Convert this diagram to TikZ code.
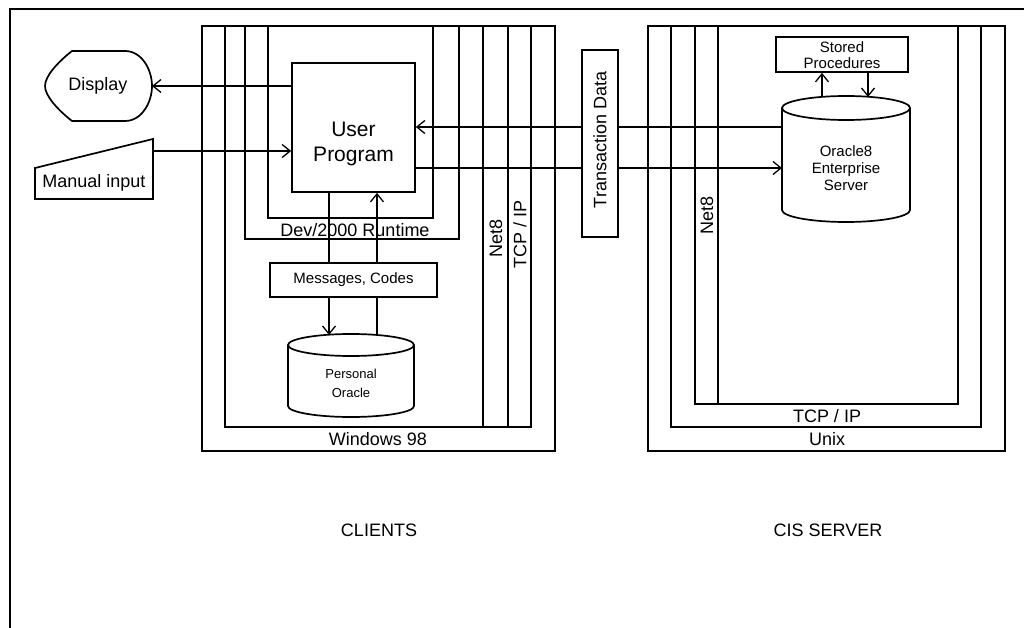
\documentclass[tikz,border=0pt]{standalone}
\usepackage{fontspec}
\setmainfont{Liberation Sans}
\usetikzlibrary{arrows.meta}
\tikzset{
  frame/.style={draw=black, line width=1.7pt, line join=miter},
  box/.style={draw=black, line width=1.7pt, fill=white, inner sep=0pt},
  conn/.style={draw=black, line width=1.3pt},
  arr/.style={conn, -{Straight Barb[length=8pt,width=13pt,line width=1.3pt]}},
  lab/.style={font=\fontsize{18}{20}\selectfont},
  labb/.style={font=\fontsize{21}{25}\selectfont, align=center},
  labm/.style={font=\fontsize{15}{17}\selectfont, align=center},
  labs/.style={font=\fontsize{13}{19}\selectfont, align=center},
}
% database drum: centre x, top y, bottom y, x radius, y radius
\newcommand{\drum}[5]{%
  \draw[box] (#1-#4,#2+#5) -- (#1-#4,#3-#5) arc (180:0:#4 and #5) -- (#1+#4,#2+#5);
  \draw[frame] (#1,#2+#5) ellipse (#4 and #5);
}
\begin{document}
\begin{tikzpicture}[x=1pt,y=-1pt]
  \useasboundingbox (0,0) rectangle (1024,628);
  % page frame
  \draw[frame] (10,628) -- (10,9) -- (1024,9);

  % client layers
  \draw[frame] (202,26) rectangle (555,451);
  \draw[frame] (225,26) -- (225,427) -- (531,427) -- (531,26);
  \draw[frame] (483,26) -- (483,427);
  \draw[frame] (508,26) -- (508,427);
  \draw[frame] (245,26) -- (245,239) -- (459,239) -- (459,26);
  \draw[frame] (268,26) -- (268,218) -- (433,218) -- (433,26);
  \node[lab] (win) at (378,439) {Windows 98};
  \node[lab] (dev) at (355,230) {Dev/2000 Runtime};
  \node[lab, rotate=90] (netC) at (496,238) {Net8};
  \node[lab, rotate=90] (tcpC) at (520,234) {TCP / IP};

  % server layers
  \draw[frame] (648,26) rectangle (1005,451);
  \draw[frame] (671,26) -- (671,427) -- (981,427) -- (981,26);
  \draw[frame] (695,26) -- (695,404) -- (958,404) -- (958,26);
  \draw[frame] (718,26) -- (718,404);
  \node[lab] (unix) at (827,439) {Unix};
  \node[lab] (tcpS) at (827,416) {TCP / IP};
  \node[lab, rotate=90] (netS) at (707,215) {Net8};

  % outside world
  \draw[frame] (72,51) -- (125,51) .. controls (142,51) and (152,70) .. (152,86)
    .. controls (152,102) and (142,121) .. (125,121) -- (72,121)
    .. controls (58,110) and (45,96) .. (45,86)
    .. controls (45,76) and (58,62) .. (72,51) -- cycle;
  \node[lab] (disp) at (98,86) {Display};
  \coordinate (dispE) at (152,86);
  \draw[frame] (35,168) -- (153,139) -- (153,199) -- (35,199) -- cycle;
  \node[lab] (man) at (94,183) {Manual input};
  \coordinate (manE) at (153,151);

  % client boxes
  \node[box, minimum width=123, minimum height=129] (up) at (353.5,127.5) {};
  \node[labb] (uptxt) at (353.5,144) {User\\Program};
  \node[box, minimum width=167, minimum height=34] (msg) at (353.5,280) {};
  \node[labm] (msgtxt) at (353.5,280) {Messages, Codes};
  \drum{351}{334}{417}{63}{11}
  \coordinate (po) at (351,335);
  \node[labs] (potxt) at (351,383) {Personal\\Oracle};

  % server boxes
  \node[box, minimum width=132, minimum height=35] (sp) at (842,54.5) {};
  \node[labm, font=\fontsize{15}{16}\selectfont] (sptxt) at (842,55) {Stored\\Procedures};
  \drum{846}{96}{222}{64}{12}
  \coordinate (ora) at (846,97);
  \coordinate (oraW) at (782,160);
  \node[labm] (oratxt) at (846,168) {Oracle8\\Enterprise\\Server};

  % links
  \coordinate (cL) at (329,0);
  \coordinate (cR) at (377,0);
  \coordinate (sL) at (822,0);
  \coordinate (sR) at (868,0);
  \coordinate (tIn) at (oraW |- 0,127);
  \coordinate (tOut) at (up.east |- 0,168);
  \draw[arr] (up.west |- dispE) -- (dispE);
  \draw[arr] (manE) -- (manE -| up.west);
  \draw[arr] (tIn) -- (tIn -| up.east);
  \draw[arr] (tOut) -- (tOut -| oraW);
  \draw[conn] (up.south -| cL) -- (msg.north -| cL);
  \draw[arr] (msg.north -| cR) -- (up.south -| cR);
  \draw[arr] (msg.south -| cL) -- (po -| cL);
  \draw[conn] (msg.south -| cR) -- (po -| cR);
  \draw[arr] (ora -| sL) -- (sp.south -| sL);
  \draw[arr] (sp.south -| sR) -- (ora -| sR);

  % network box
  \node[box, rotate=90, minimum width=187, minimum height=36] (td) at (600,143.5) {};
  \node[lab, rotate=90] (tdtxt) at (600,140) {Transaction Data};

  \node[lab] (cli) at (379,530) {CLIENTS};
  \node[lab] (srv) at (828,530) {CIS SERVER};
\end{tikzpicture}
\end{document}
